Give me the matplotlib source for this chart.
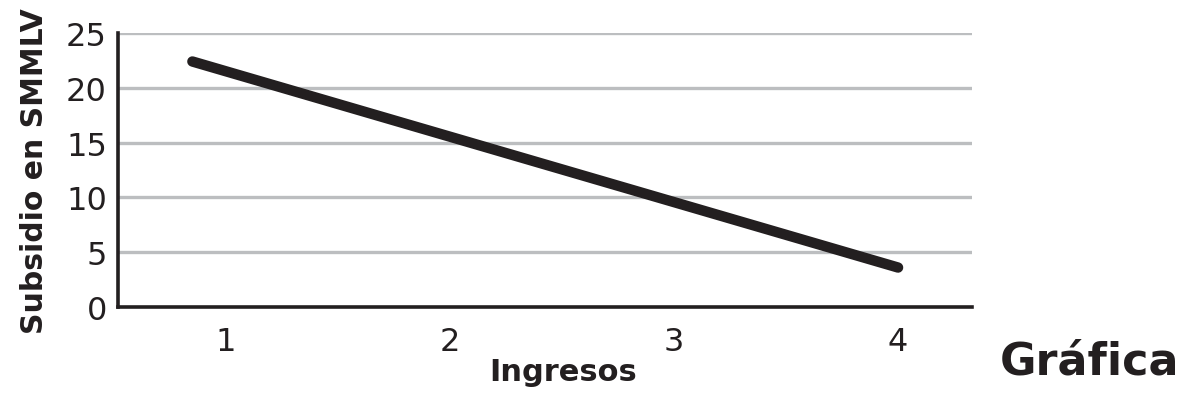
import matplotlib.pyplot as plt

# data
ingresos = [0.85, 4.0]
subsidio = [22.4, 3.6]
xticks = [1, 2, 3, 4]
yticks = [0, 5, 10, 15, 20, 25]

INK = '#231f20'
GRID = '#bcbec0'

fig = plt.figure(figsize=(11.92, 4.06), dpi=100)
ax = fig.add_axes([118/1192, 98/406, (972-118)/1192, (308-34)/406])

for y in yticks[1:]:
    ax.axhline(y, color=GRID, lw=2.4, zorder=1)

ax.plot(ingresos, subsidio, color=INK, lw=7.5, solid_capstyle='round', zorder=3)

ax.set_xlim(0.518, 4.33)
ax.set_ylim(0, 25)
ax.set_xticks(xticks)
ax.set_yticks(yticks)
ax.tick_params(length=0, labelsize=23, colors=INK)
ax.tick_params(axis='x', pad=14)
ax.tick_params(axis='y', pad=8)

for s in ['top', 'right']:
    ax.spines[s].set_visible(False)
for s in ['left', 'bottom']:
    ax.spines[s].set_color(INK)
    ax.spines[s].set_linewidth(2.6)
    ax.spines[s].set_zorder(4)

ax.set_xlabel('Ingresos', fontsize=22, fontweight='bold', color=INK)
ax.xaxis.set_label_coords((563-118)/(972-118), (308-373)/(308-34), transform=None)
ax.xaxis.label.set_va('center')
ax.set_ylabel('Subsidio en SMMLV', fontsize=21.5, fontweight='bold', color=INK, labelpad=12)

fig.text(1000/1192, 1 - 362/406, 'Gráfica', fontsize=32, fontweight='bold',
         color=INK, ha='left', va='center')

fig.savefig('out.png', dpi=100)
